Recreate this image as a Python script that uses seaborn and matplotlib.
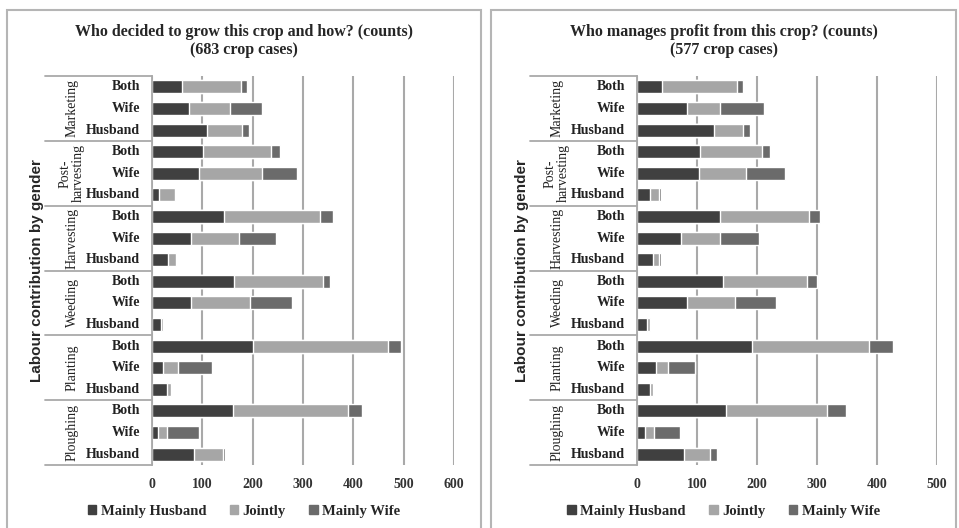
import numpy as np
import pandas as pd
import seaborn as sns
import matplotlib.pyplot as plt
from matplotlib.patches import Patch, Rectangle

# rows run top to bottom: each activity has Both / Wife / Husband
activities = ['Marketing', 'Post-\nharvesting', 'Harvesting', 'Weeding', 'Planting', 'Ploughing']
who = ['Both', 'Wife', 'Husband']

# left panel: who decided to grow this crop (683 crop cases)
grow_husband = [60, 73, 109, 101, 93, 13, 143, 78, 32, 163, 78, 17, 201, 22, 29, 161, 11, 83]
grow_jointly = [117, 81, 70, 136, 126, 32, 191, 95, 15, 176, 117, 4, 268, 30, 8, 228, 19, 59]
grow_wife = [12, 65, 14, 17, 69, 0, 25, 74, 0, 15, 84, 0, 26, 68, 0, 29, 64, 3]

# right panel: who manages profit from this crop (577 crop cases)
profit_husband = [42, 84, 128, 105, 103, 21, 139, 73, 26, 144, 83, 16, 192, 31, 21, 149, 14, 78]
profit_jointly = [124, 54, 49, 104, 79, 16, 147, 66, 11, 139, 81, 5, 195, 21, 6, 168, 14, 43]
profit_wife = [11, 73, 11, 13, 64, 3, 19, 65, 3, 17, 68, 0, 39, 44, 0, 31, 43, 12]

series = ['Mainly Husband', 'Jointly', 'Mainly Wife']
DARK, LIGHT, MID = '#404040', '#a6a6a6', '#6b6b6b'
GRID = '#a9a9a9'

sns.set_style('white')
plt.rcParams['font.family'] = ['Liberation Serif', 'DejaVu Serif']

W, H = 959, 528
fig = plt.figure(figsize=(W / 100, H / 100), dpi=100)


def px(x0, y0, w, h):
    # pixel box (from top-left) -> figure fraction
    return [x0 / W, 1 - (y0 + h) / H, w / W, h / H]


def draw_panel(rect, husband, jointly, wife, xmax, title, box):
    bx0, bx1 = box
    fig.add_artist(Rectangle((bx0 / W, -0.05), (bx1 - bx0) / W, 1 - 10 / H + 0.05,
                             transform=fig.transFigure, fill=False,
                             edgecolor='#b5b5b5', lw=1.5))
    ax = fig.add_axes(px(*rect))
    rows = [f'{a}|{w}' for a in activities for w in who]
    df = pd.DataFrame({'row': rows, 'husband': husband,
                       'jointly': jointly, 'wife': wife})
    df['upto_jointly'] = df['husband'] + df['jointly']
    df['total'] = df['upto_jointly'] + df['wife']
    for col, c in [('total', MID), ('upto_jointly', LIGHT), ('husband', DARK)]:
        sns.barplot(data=df, x=col, y='row', color=c, width=0.6,
                    errorbar=None, saturation=1, ax=ax)

    ax.set_xlim(0, xmax)
    ax.set_ylim(len(rows) - 0.5, -0.5)
    ax.set_xticks(range(0, xmax + 1, 100))
    ax.xaxis.grid(True, color=GRID, lw=1.5)
    ax.set_axisbelow(True)
    ax.tick_params(axis='x', length=0, pad=9, labelsize=10)
    for t in ax.get_xticklabels():
        t.set_fontweight('bold')
        t.set_color('#333333')
    ax.set_yticks([])
    ax.set_xlabel('')
    ax.set_ylabel('')
    for s in ['top', 'right', 'bottom']:
        ax.spines[s].set_visible(False)
    ax.spines['left'].set_color(GRID)
    ax.spines['left'].set_linewidth(1.3)

    # hierarchical category labels
    tr = ax.get_yaxis_transform()
    table_left = (rect[0] - 107) / rect[2] - rect[0] / rect[2]
    table_left = -107 / rect[2]
    for i, r in enumerate(rows):
        ax.text(-0.04, i, r.split('|')[1], transform=tr, ha='right', va='center',
                fontsize=10, fontweight='bold', color='#222222')
    for g, a in enumerate(activities):
        ax.text(-80 / rect[2], g * 3 + 1, a, transform=tr, ha='center',
                va='center', rotation=90, fontsize=10, color='#222222',
                linespacing=1.0)
    for b in np.arange(-0.5, len(rows), 3):
        ax.plot([table_left, 0], [b, b], transform=tr, color=GRID, lw=1.3,
                clip_on=False)
    ax.text(-115 / rect[2], 0.5, 'Labour contribution by gender',
            transform=ax.transAxes, rotation=90, ha='center', va='center',
            fontsize=11, fontweight='bold', family=['Liberation Sans'])

    cx = (bx0 + bx1) / 2 / W
    fig.text(cx, 1 - 41 / H, title, ha='center', va='center', fontsize=11.5,
             fontweight='bold', linespacing=1.15)
    handles = [Patch(color=c) for c in [DARK, LIGHT, MID]]
    fig.legend(handles, series, loc='center', bbox_to_anchor=(cx, 1 - 511 / H),
               ncol=3, frameon=False, handlelength=0.6, handleheight=0.6,
               handletextpad=0.3, columnspacing=1.6,
               prop={'size': 10.5, 'weight': 'bold'})
    return ax


draw_panel((152, 76, 302, 389), grow_husband, grow_jointly, grow_wife, 600,
           'Who decided to grow this crop and how? (counts)\n(683 crop cases)',
           (7, 481))
draw_panel((637, 76, 300, 389), profit_husband, profit_jointly, profit_wife, 500,
           'Who manages profit from this crop? (counts)\n(577 crop cases)',
           (491, 956))

fig.savefig('out.png', dpi=100)
